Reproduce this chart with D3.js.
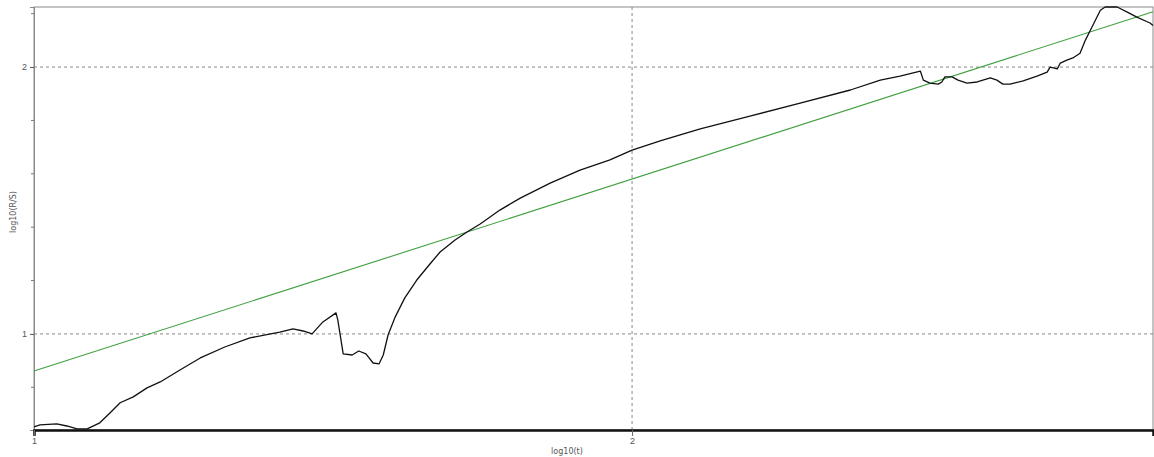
<!DOCTYPE html>
<html>
<head>
<meta charset="utf-8">
<script src="https://cdn.jsdelivr.net/npm/d3@7"></script>
<style>
  body { margin: 0; background: #fff; }
  svg { display: block; font-family: "DejaVu Sans", sans-serif; }
</style>
</head>
<body>
<svg id="chart" width="1154" height="457"></svg>
<script>
// log10(t) vs log10(R/S) -- black curve is the measured series, green the fit
var curveX = [1.000, 1.010, 1.038, 1.055, 1.072, 1.089, 1.110, 1.127, 1.144, 1.166,
  1.189, 1.211, 1.244, 1.278, 1.319, 1.361, 1.411, 1.433, 1.450, 1.465,
  1.483, 1.505, 1.508, 1.517, 1.532, 1.543, 1.555, 1.567, 1.577, 1.584,
  1.592, 1.604, 1.620, 1.640, 1.662, 1.679, 1.704, 1.724, 1.746, 1.779,
  1.813, 1.863, 1.913, 1.963, 2.000, 2.047, 2.114, 2.197, 2.281, 2.365,
  2.415, 2.448, 2.482, 2.487, 2.498, 2.512,
  2.518, 2.523, 2.535, 2.545, 2.560, 2.577, 2.599, 2.610, 2.620, 2.632,
  2.654, 2.677, 2.694, 2.699, 2.711, 2.716, 2.727, 2.737, 2.749, 2.758,
  2.769, 2.783, 2.791, 2.811, 2.828, 2.844, 2.866, 2.871];
var curveY = [0.652, 0.659, 0.663, 0.655, 0.644, 0.644, 0.667, 0.704, 0.742, 0.764,
  0.798, 0.820, 0.865, 0.910, 0.951, 0.985, 1.007, 1.019, 1.011, 1.000,
  1.045, 1.079, 1.052, 0.925, 0.921, 0.936, 0.925, 0.891, 0.888, 0.921,
  0.996, 1.064, 1.135, 1.202, 1.262, 1.307, 1.352, 1.382, 1.412, 1.464,
  1.509, 1.565, 1.614, 1.652, 1.689, 1.723, 1.768, 1.816, 1.865, 1.914,
  1.951, 1.966, 1.985, 1.951, 1.940, 1.936,
  1.944, 1.963, 1.963, 1.951, 1.940, 1.944, 1.959, 1.951, 1.936, 1.936,
  1.948, 1.966, 1.981, 2.000, 1.993, 2.015, 2.026, 2.034, 2.052, 2.101,
  2.150, 2.213, 2.225, 2.225, 2.206, 2.187, 2.165, 2.156];

// fitted line end points
var fitX = [1.0, 2.871];
var fitY = [0.861, 2.207];

var xTicks = [1, 2];
var yMajor = [1, 2];
var yMinor = [0.8, 1.2, 1.4, 1.6, 1.8, 2.2];

var svg = d3.select("#chart"),
  margin = {top: 7, right: 1, bottom: 27, left: 34},
  width = +svg.attr("width") - margin.left - margin.right,
  height = +svg.attr("height") - margin.top - margin.bottom;

var x = d3.scaleLinear().domain([1, 2.871]).range([0, width]);
var y = d3.scaleLinear().domain([0.640, 2.225]).range([height, 0]);

var g = svg.append("g")
  .attr("transform", "translate(" + margin.left + "," + margin.top + ")");

// frame (top / right in gray)
g.append("rect")
  .attr("x", 0).attr("y", 0)
  .attr("width", width).attr("height", height)
  .attr("fill", "none")
  .attr("stroke", "#8a8a8a")
  .attr("stroke-width", 1);

// grid lines
g.selectAll(".hgrid")
  .data(yMajor)
  .enter().append("line")
  .attr("x1", 0).attr("x2", width)
  .attr("y1", function(d) { return y(d); })
  .attr("y2", function(d) { return y(d); })
  .attr("stroke", "#888")
  .attr("stroke-dasharray", "3,3");

g.selectAll(".vgrid")
  .data([2])
  .enter().append("line")
  .attr("x1", function(d) { return x(d); })
  .attr("x2", function(d) { return x(d); })
  .attr("y1", 0).attr("y2", height)
  .attr("stroke", "#888")
  .attr("stroke-dasharray", "3,3");

// y axis
var yAxis = g.append("g")
  .call(d3.axisLeft(y).tickValues(yMajor).tickSize(4).tickFormat(d3.format("d")));
yAxis.select(".domain").attr("stroke", "#8a8a8a");
yAxis.selectAll("text").attr("fill", "#555").style("font-size", "9px");
yAxis.selectAll(".tick line").attr("stroke", "#555");

g.selectAll(".minor")
  .data(yMinor)
  .enter().append("line")
  .attr("x1", -3).attr("x2", 0)
  .attr("y1", function(d) { return y(d); })
  .attr("y2", function(d) { return y(d); })
  .attr("stroke", "#777");

// x axis
var xAxis = g.append("g")
  .attr("transform", "translate(0," + height + ")")
  .call(d3.axisBottom(x).tickValues(xTicks).tickSize(6).tickPadding(2).tickFormat(d3.format("d")));
xAxis.select(".domain").attr("stroke", "#111").attr("stroke-width", 2.5);
xAxis.selectAll("text").attr("fill", "#555").style("font-size", "9px");
xAxis.selectAll(".tick line").attr("stroke", "#666");

// axis titles
svg.append("text")
  .attr("x", 567).attr("y", 454)
  .attr("text-anchor", "middle")
  .attr("fill", "#555")
  .style("font-size", "8px")
  .text("log10(t)");

svg.append("text")
  .attr("transform", "translate(16,212) rotate(-90)")
  .attr("text-anchor", "middle")
  .attr("fill", "#555")
  .style("font-size", "8px")
  .text("log10(R/S)");

// fit line
var fitData = fitX.map(function(d, i) { return [d, fitY[i]]; });
g.append("path")
  .datum(fitData)
  .attr("fill", "none")
  .attr("stroke", "#3f9f3f")
  .attr("stroke-width", 1.1)
  .attr("d", d3.line()
    .x(function(d) { return x(d[0]); })
    .y(function(d) { return y(d[1]); }));

// measured curve
var curveData = curveX.map(function(d, i) { return [d, curveY[i]]; });
g.append("path")
  .datum(curveData)
  .attr("fill", "none")
  .attr("stroke", "#111")
  .attr("stroke-width", 1.3)
  .attr("stroke-linejoin", "round")
  .attr("d", d3.line()
    .x(function(d) { return x(d[0]); })
    .y(function(d) { return y(d[1]); }));
</script>
</body>
</html>
